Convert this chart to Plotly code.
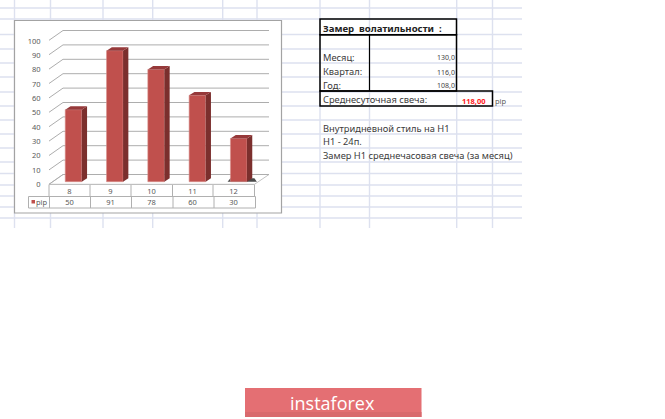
import plotly.graph_objects as go

# ---- data ----
CATEGORIES = [8, 9, 10, 11, 12]
PIP_VALUES = [50, 91, 78, 60, 30]
SERIES_NAME = "pip"
VALUE_TICKS = [0, 10, 20, 30, 40, 50, 60, 70, 80, 90, 100]
TABLE_TITLE = "Замер  волатильности  :"
TABLE_ROWS = ["Месяц:", "Квартал:", "Год:"]
TABLE_VALUES = ["130,0", "116,0", "108,0"]
DAILY_LABEL = "Среднесуточная свеча:"
DAILY_VALUE = "118,00"
NOTES = ["Внутридневной стиль на Н1", "Н1 - 24п.", "Замер Н1 среднечасовая свеча (за месяц)"]
BRAND = "instaforex"

# ---- page geometry ----
W, H = 665, 419
PX_PER_CAT, PX_PER_VAL = 41.3, 1.44
BAR_X0_PX, BAR_Y0_PX = 73.5, 181.7
LABEL_X0_PX, LABEL_PX_PER_CAT = 69.5, 41.0
TICK_Y0_PX, TICK_PX_PER_VAL = 184.5, 1.435
BAR_W = 0.4
DEPTH_X, DEPTH_Y = 5.3 / PX_PER_CAT, 3.4 / PX_PER_VAL
FONT = "Noto Sans"
GRID = "#dde1ef"
TXT = "#3a3a3a"


def fx(p):
    return p / W


def fy(p):
    return 1 - p / H


def catx(p):
    return CATEGORIES[0] + (p - BAR_X0_PX) / PX_PER_CAT


def valy(p):
    return (BAR_Y0_PX - p) / PX_PER_VAL


def labelx(p):
    return CATEGORIES[0] + (p - LABEL_X0_PX) / LABEL_PX_PER_CAT


def ticky(p):
    return (TICK_Y0_PX - p) / TICK_PX_PER_VAL


shapes = []


def line(x0, y0, x1, y1, color, width=1.0):
    shapes.append(dict(type="line", xref="paper", yref="paper", x0=fx(x0), x1=fx(x1),
                       y0=fy(y0), y1=fy(y1), line=dict(color=color, width=width), layer="below"))


def rect(x0, y0, x1, y1, fill, color=None, width=1.0):
    shapes.append(dict(type="rect", xref="paper", yref="paper", x0=fx(x0), x1=fx(x1),
                       y0=fy(y0), y1=fy(y1), fillcolor=fill,
                       line=dict(color=color or fill, width=width if color else 0), layer="below"))


# spreadsheet grid
for y in [8, 19, 34.5, 49, 63, 77, 92, 106, 120, 134, 148, 162, 173.5, 185, 196, 207, 218]:
    line(0, y, 522, y, GRID, 1.4)
for x in [14.5, 50.5, 103, 152.7, 222.7, 257, 320, 369.5, 456.7, 492.5]:
    line(x, 0, x, 228, GRID, 1.4)

# chart frame
rect(14.5, 20.5, 281.5, 213, "#ffffff", "#a3a3a3", 1.2)

# data table under the chart
TB = "#b0b0b0"
line(49, 196.5, 49, 184.5, TB)
for x in [90, 131, 172.5, 213, 254.5]:
    line(x, 184.5, x, 196.5, TB)
for x in [49.5, 90.5, 131.5, 173, 214, 255.5]:
    line(x, 196.5, x, 208, TB)
line(49, 184.5, 254.5, 184.5, TB)
line(28.5, 196.5, 255.5, 196.5, TB)
line(28.5, 208, 255.5, 208, TB)
line(28.5, 196.5, 28.5, 208, TB)
rect(31.5, 200, 35, 203.5, "#c0504d")

# volatility table
K = "#000000"
rect(320, 19, 456.5, 34.7, "rgba(0,0,0,0)", K, 1.5)
rect(320, 34.7, 456.5, 91, "rgba(0,0,0,0)", K, 1.5)
line(369.5, 34.7, 369.5, 91, K, 1.2)
rect(320, 91, 492.5, 106, "rgba(0,0,0,0)", K, 1.5)

# banner
rect(245, 388, 421.5, 417, "#e46f73")
rect(245, 412, 421.5, 417, "#d9696d")

traces = []

# 3-D walls and floor, built from the axis ticks (main subplot, drawn first)
FRONT_L, BACK_L = catx(49), catx(63)
BACK_R, FRONT_R = catx(269), catx(254.5)
FRONT_OFF, BACK_OFF = valy(184.3), valy(174.5)
traces.append(go.Scatter(
    x=[FRONT_L, BACK_L, BACK_R, FRONT_R, FRONT_L],
    y=[FRONT_OFF, BACK_OFF, BACK_OFF, FRONT_OFF, FRONT_OFF],
    mode="lines", line=dict(color="#c4c4c4", width=1), hoverinfo="skip"))
for t in VALUE_TICKS:
    traces.append(go.Scatter(
        x=[FRONT_L, BACK_L, BACK_R],
        y=[t + FRONT_OFF, t + BACK_OFF, t + BACK_OFF],
        mode="lines", line=dict(color="#adadad", width=1), hoverinfo="skip"))

# floor shadow of the smallest bar
traces.append(go.Scatter(
    x=[CATEGORIES[-1] - 0.27, CATEGORIES[-1] + 0.44, CATEGORIES[-1] + 0.38, CATEGORIES[-1] - 0.2, CATEGORIES[-1] - 0.27],
    y=[0, 0, 2.4, 2.4, 0],
    mode="lines", fill="toself", fillcolor="#4a4a4a", line=dict(width=0), hoverinfo="skip"))

# front faces on an overlay subplot, above the walls
traces.append(go.Bar(x=CATEGORIES, y=PIP_VALUES, width=BAR_W, name=SERIES_NAME,
                     xaxis="x3", yaxis="y3",
                     marker=dict(color="#c0504d", line=dict(color="#d98f8c", width=0.6))))

# side and top faces
for c, v in zip(CATEGORIES, PIP_VALUES):
    r = c + BAR_W / 2
    l = c - BAR_W / 2
    traces.append(go.Scatter(
        x=[r, r + DEPTH_X, r + DEPTH_X, r, r], y=[0, DEPTH_Y, v + DEPTH_Y, v, 0], xaxis="x3", yaxis="y3",
        mode="lines", fill="toself", fillcolor="#7b2f2d", line=dict(width=0), hoverinfo="skip"))
    traces.append(go.Scatter(
        x=[l, l + DEPTH_X, r + DEPTH_X, r, l], y=[v, v + DEPTH_Y, v + DEPTH_Y, v, v], xaxis="x3", yaxis="y3",
        mode="lines", fill="toself", fillcolor="#96393a", line=dict(width=0), hoverinfo="skip"))

# values row of the data table
traces.append(go.Scatter(
    x=CATEGORIES, y=[valy(203)] * len(CATEGORIES), xaxis="x2", yaxis="y",
    mode="text", text=[str(v) for v in PIP_VALUES],
    textfont=dict(family=FONT, size=7.5, color="#595959"), hoverinfo="skip"))
# keeps the tick axes alive
traces.append(go.Scatter(x=CATEGORIES, y=PIP_VALUES, xaxis="x2", yaxis="y2", mode="markers",
                         marker=dict(opacity=0), hoverinfo="skip"))

fig = go.Figure(traces)


def note(x, y, text, size=9.3, color=TXT, anchor="left", bold=False, family=FONT):
    fig.add_annotation(xref="paper", yref="paper", x=fx(x), y=fy(y), text=f"<b>{text}</b>" if bold else text,
                       showarrow=False, xanchor=anchor, yanchor="middle",
                       font=dict(family=family, size=size, color=color), borderpad=0, borderwidth=0)


note(36, 202.3, SERIES_NAME, 7.5, "#595959")
note(323, 28.5, TABLE_TITLE, 9.6, "#222222", bold=True)
for y, label, val in zip([57, 71.5, 85], TABLE_ROWS, TABLE_VALUES):
    note(323, y, label)
    note(455, y + 0.5, val, 7, "#444444", anchor="right")
note(323, 100, DAILY_LABEL)
note(486, 100.5, DAILY_VALUE, 7.5, "#ff2020", anchor="right", bold=True)
note(495, 101, SERIES_NAME, 7.5, "#595959")
for y, text in zip([128.5, 142, 156], NOTES):
    note(323, y, text)
note(332.5, 403, BRAND, 18, "#ffffff", anchor="center", family="Open Sans")

fig.update_layout(
    width=W, height=H, margin=dict(l=0, r=0, t=0, b=0), autosize=False,
    paper_bgcolor="#ffffff", plot_bgcolor="rgba(0,0,0,0)", showlegend=False,
    barmode="overlay", shapes=shapes, font=dict(family=FONT),
    xaxis=dict(domain=[0, 1], range=[catx(0), catx(W)], visible=False, fixedrange=True),
    yaxis=dict(domain=[0, 1], range=[valy(H), valy(0)], visible=False, fixedrange=True),
    xaxis3=dict(overlaying="x", range=[catx(0), catx(W)], visible=False, fixedrange=True),
    yaxis3=dict(overlaying="y", range=[valy(H), valy(0)], visible=False, fixedrange=True),
    xaxis2=dict(overlaying="x", range=[labelx(0), labelx(W)],
                anchor="free", position=fy(185), side="bottom",
                tickmode="array", tickvals=CATEGORIES, ticktext=[str(c) for c in CATEGORIES],
                ticks="", showgrid=False, zeroline=False,
                showline=False, tickfont=dict(family=FONT, size=7.5, color="#595959"), tickangle=0),
    yaxis2=dict(overlaying="y", range=[ticky(H), ticky(0)], anchor="free", position=fx(49),
                side="left", tickmode="array", tickvals=VALUE_TICKS,
                ticks="outside", ticklen=7, tickcolor="rgba(0,0,0,0)", showgrid=False, zeroline=False,
                showline=False, tickfont=dict(family=FONT, size=7.5, color="#595959")),
)

fig.write_html("out.html", config=dict(displayModeBar=False), include_plotlyjs=True,
               post_script="document.body.style.margin='0';document.documentElement.style.overflow='hidden';")
